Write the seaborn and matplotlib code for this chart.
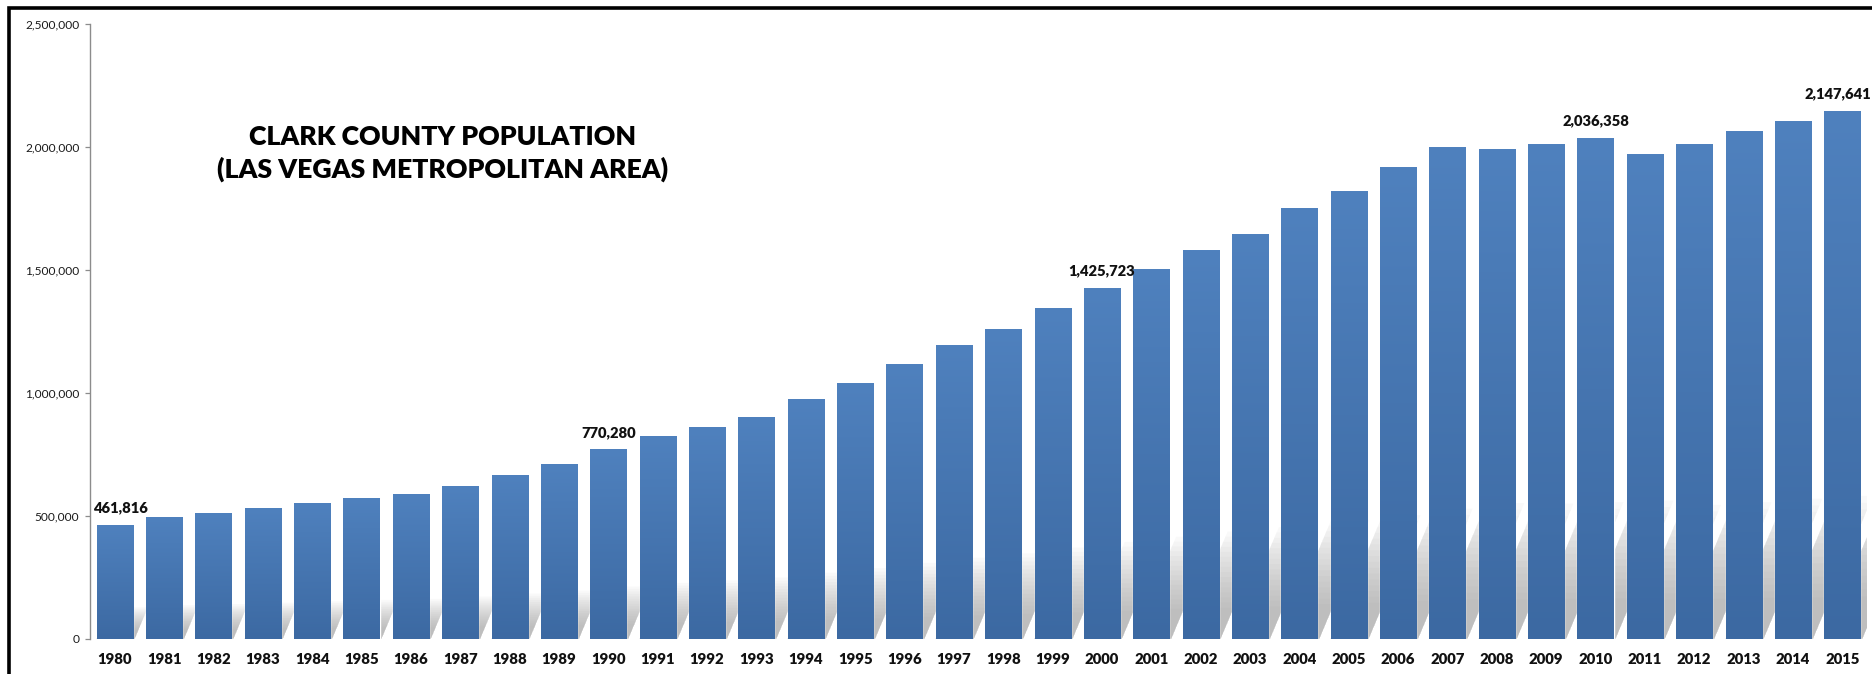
import numpy as np
import pandas as pd
import seaborn as sns
import matplotlib
matplotlib.use("Agg")
import matplotlib.pyplot as plt
from matplotlib.patches import Polygon, Rectangle
from matplotlib.colors import LinearSegmentedColormap
from matplotlib.ticker import FuncFormatter, MultipleLocator

# ---------------- data ----------------
years = ["1980", "1981", "1982", "1983", "1984", "1985", "1986", "1987", "1988", "1989",
         "1990", "1991", "1992", "1993", "1994", "1995", "1996", "1997", "1998", "1999",
         "2000", "2001", "2002", "2003", "2004", "2005", "2006", "2007", "2008", "2009",
         "2010", "2011", "2012", "2013", "2014", "2015"]
population = [461816, 495000, 511000, 531000, 552000, 572000, 588000, 621000, 666000, 710000,
              770280, 824000, 861000, 901000, 974000, 1039000, 1117000, 1194000, 1259000, 1344000,
              1425723, 1503000, 1580000, 1645000, 1751000, 1820000, 1917000, 1999000, 1991000, 2011000,
              2036358, 1971000, 2011000, 2063000, 2104000, 2147641]
labeled_years = ["1980", "1990", "2000", "2010", "2015"]
title_lines = ["CLARK COUNTY POPULATION", "(LAS VEGAS METROPOLITAN AREA)"]

df = pd.DataFrame({"year": years, "population": population})

# ---------------- style ----------------
W, H = 1872, 674
sns.set_theme(style="white")
plt.rcParams["font.family"] = ["Lato", "DejaVu Sans"]

fig = plt.figure(figsize=(W / 100, H / 100), dpi=100)
ax = fig.add_axes([90 / W, 35.3 / H, (1867 - 90) / W, (638.7 - 24) / H])

bar_w = 0.73
sns.barplot(data=df, x="year", y="population", order=years, color="#4a7ab5",
            saturation=1, width=bar_w, ax=ax, zorder=3)

YMAX = 2_500_000
ax.set_xlim(-0.5, len(years) - 0.5)
ax.set_ylim(0, YMAX)

# gradient fill on each bar
cmap = LinearSegmentedColormap.from_list("bar", ["#3c69a2", "#4f81be"])
grad = np.linspace(0, 1, 256).reshape(-1, 1)
for p in list(ax.patches):
    x0, w, h = p.get_x(), p.get_width(), p.get_height()
    im = ax.imshow(grad, extent=[x0, x0 + w, 0, h], origin="lower", aspect="auto",
                   cmap=cmap, zorder=3.5)
    im.set_clip_path(p)

# soft skewed shadow behind bars (many faint layers to imitate blur)
ax_h_px = 638.7 - 24
pitch_px = (1867 - 90) / len(years)
for i, v in enumerate(population):
    for scale in np.linspace(0.35, 1.2, 16):
        sh = 0.23 * v * scale
        shift = 0.42 * (sh * ax_h_px / YMAX) / pitch_px
        xl, xr = i - bar_w / 2, i + bar_w / 2
        poly = Polygon([(xl, 0), (xr + 0.04, 0), (xr + 0.04 + shift, sh), (xl + shift, sh)],
                       closed=True, fc="#8a8a8a", ec="none", alpha=0.045, zorder=1)
        ax.add_patch(poly)

ax.set_xlim(-0.5, len(years) - 0.5)
ax.set_ylim(0, YMAX)

# data labels
for i, (yr, v) in enumerate(zip(years, population)):
    if yr in labeled_years:
        if i == 0:
            dx = 4
        elif i == len(years) - 1:
            dx = -3
        else:
            dx = 0
        ax.annotate(f"{v:,}", xy=(i, v), xytext=(dx, 9), textcoords="offset points",
                    ha="center", va="baseline", fontsize=10.6, fontweight="heavy",
                    color="#111111", zorder=5)

# axes styling
ax.yaxis.set_major_locator(MultipleLocator(500_000))
ax.yaxis.set_major_formatter(FuncFormatter(lambda v, _: f"{int(v):,}"))
for s in ["top", "right", "bottom"]:
    ax.spines[s].set_visible(False)
ax.spines["left"].set_color("#8c8c8c")
ax.spines["left"].set_linewidth(1.0)
ax.tick_params(axis="y", which="major", direction="out", length=3.3, width=0.9,
               color="#8c8c8c", pad=4.3, labelsize=8.6, labelcolor="#1a1a1a", left=True)
ax.tick_params(axis="x", length=0, pad=10, labelsize=10.7, labelcolor="#111111")
for lab in ax.get_xticklabels():
    lab.set_fontweight("heavy")
ax.set_xlabel("")
ax.set_ylabel("")
ax.grid(False)

# title (two centered lines)
fig.text(443 / W, 1 - 145 / H, title_lines[0], ha="center", va="baseline",
         fontsize=19.2, fontweight="heavy", color="black")
fig.text(443 / W, 1 - 178 / H, title_lines[1], ha="center", va="baseline",
         fontsize=19.2, fontweight="heavy", color="black")

# thick outer frame (cut off at right and bottom)
fig.add_artist(Rectangle((8.5 / W, -0.1), 1.2, (H - 8.5) / H + 0.1,
                         transform=fig.transFigure, fill=False, lw=2.6, ec="black"))

fig.savefig("out.png", dpi=100)
